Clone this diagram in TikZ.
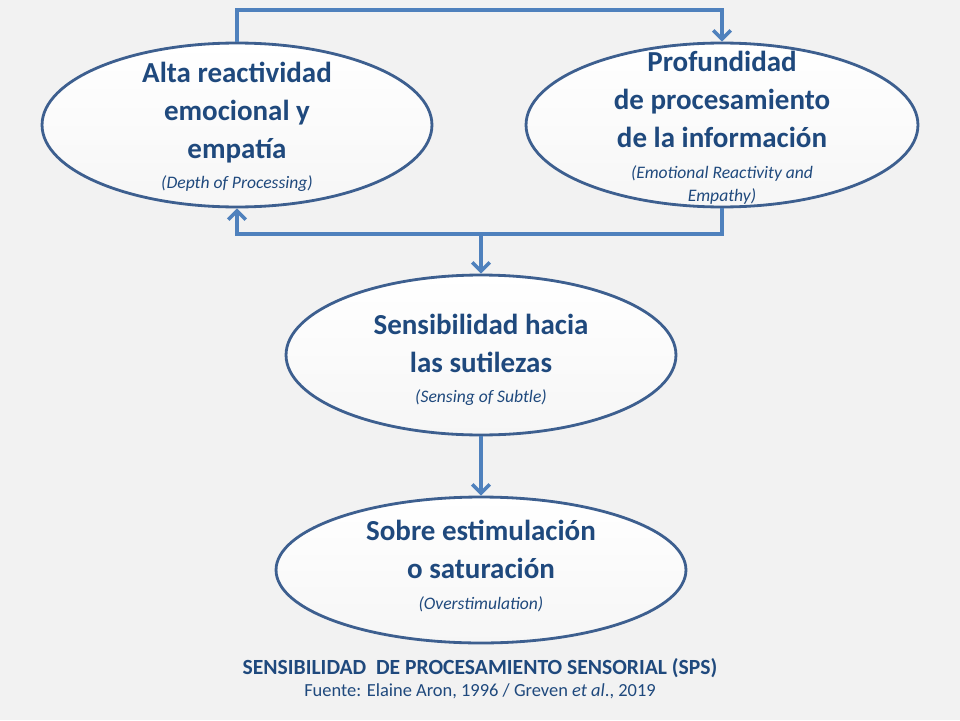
\documentclass[tikz,border=0pt]{standalone}
\usepackage{fontspec}
\setmainfont{Carlito}
\usetikzlibrary{shapes.geometric,arrows.meta}
\definecolor{bg}{HTML}{F2F2F2}
\definecolor{edge}{HTML}{3D5F8F}
\definecolor{txt}{HTML}{1F497D}
\definecolor{link}{HTML}{4F81BD}
\newcommand\subtxt{\fontsize{10}{12.5}\selectfont\mdseries\itshape}
\begin{document}
\begin{tikzpicture}[x=0.02cm,y=-0.02cm,
  oval/.style={ellipse,draw=edge,line width=1.6pt,top color=white,bottom color=white!93!gray,inner sep=0pt},
  ttl/.style={text=txt,align=center,font=\fontsize{16.5}{21.5}\selectfont\bfseries},
  lnk/.style={draw=link,line width=2.1pt},
  arr/.style={lnk,-{Straight Barb[length=5pt,width=10pt,line width=2pt]}}]
\fill[bg] (0,0) rectangle (960,720);
\node[oval,minimum width=7.8cm,minimum height=3.28cm] (a) at (237,125) {};
\node[oval,minimum width=7.84cm,minimum height=3.28cm] (b) at (722,125) {};
\node[oval,minimum width=7.8cm,minimum height=3.2cm] (c) at (481,355) {};
\node[oval,minimum width=8.2cm,minimum height=2.92cm] (d) at (481,570) {};
\node[ttl] (ta) at (237,127) {Alta reactividad\\emocional y\\empatía\\[-4pt]{\subtxt (Depth of Processing)}};
\node[ttl] (tb) at (722,128) {Profundidad\\de procesamiento\\de la información\\[-4pt]{\subtxt (Emotional Reactivity and}\\[-8pt]{\subtxt Empathy)}};
\node[ttl] (tc) at (481,360) {Sensibilidad hacia\\las sutilezas\\[-4pt]{\subtxt (Sensing of Subtle)}};
\node[ttl] (td) at (481,566) {Sobre estimulación\\o saturación\\[-4pt]{\subtxt (Overstimulation)}};
\coordinate (p1) at (237,10);
\coordinate (p2) at (722,10);
\coordinate (q1) at (722,234);
\coordinate (q2) at (237,234);
\coordinate (q3) at (481,234);
\draw[arr] (a.north) -- (p1) -- (p2) -- (b.north);
\draw[arr] (b.south) -- (q1) -- (q2) -- (a.south);
\draw[arr] (q3) -- (c.north);
\draw[arr] (c.south) -- (d.north);
\node[text=txt,font=\fontsize{12.3}{13}\selectfont\bfseries] (t1) at (480,668) {SENSIBILIDAD\ \ DE PROCESAMIENTO SENSORIAL (SPS)};
\node[text=txt,font=\fontsize{10.5}{12}\selectfont] (t2) at (480,691) {Fuente: Elaine Aron, 1996 / Greven \textit{et al}., 2019};
\end{tikzpicture}
\end{document}
